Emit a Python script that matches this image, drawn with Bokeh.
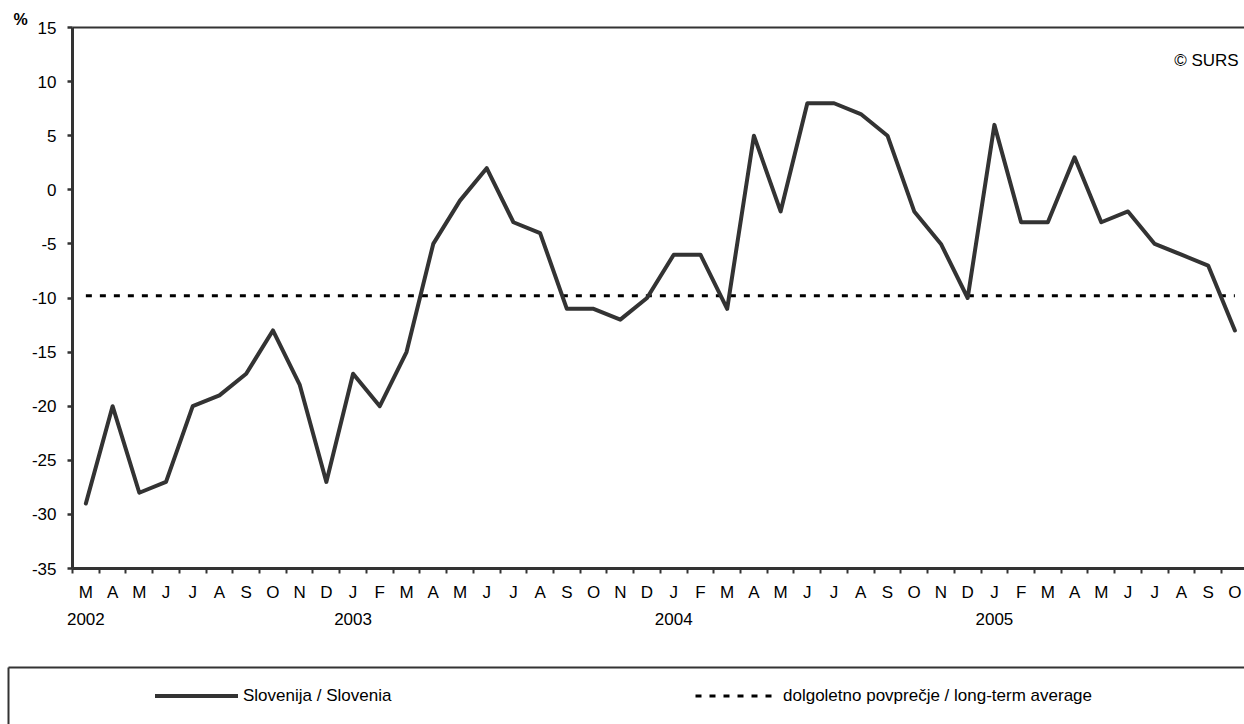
from bokeh.plotting import figure
from bokeh.layouts import column
from bokeh.models import (Range1d, FixedTicker, LinearAxis, Legend, LegendItem,
                          Label, ColumnDataSource, CustomJSTickFormatter, Title)
from bokeh.embed import file_html
from bokeh.resources import INLINE

# ---- data -------------------------------------------------------------
months = ["M", "A", "M", "J", "J", "A", "S", "O", "N", "D",
          "J", "F", "M", "A", "M", "J", "J", "A", "S", "O", "N", "D",
          "J", "F", "M", "A", "M", "J", "J", "A", "S", "O", "N", "D",
          "J", "F", "M", "A", "M", "J", "J", "A", "S", "O"]
years = ["2002", "2003", "2004", "2005"]
year_start_index = [0, 10, 22, 34]
slovenia = [-29, -20, -28, -27, -20, -19, -17, -13, -18, -27,
            -17, -20, -15, -5, -1, 2, -3, -4, -11, -11, -12, -10,
            -6, -6, -11, 5, -2, 8, 8, 7, 5, -2, -5, -10,
            6, -3, -3, 3, -3, -2, -5, -6, -7, -13]
long_term_average = -9.8
y_ticks = [-35, -30, -25, -20, -15, -10, -5, 0, 5, 10, 15]

series_name = "Slovenija / Slovenia"
average_name = "dolgoletno povprečje / long-term average"

FONT = "Liberation Sans"
DARK = "#333333"

x = [i + 0.5 for i in range(len(months))]
src = ColumnDataSource(dict(x=x, y=slovenia,
                            avg=[long_term_average for _ in months]))

SL_STYLE = dict(line_color=DARK, line_width=4, line_join="round", line_cap="round")
AVG_STYLE = dict(line_color="black", line_width=3, line_dash="6 8")


def line_only_axis(**kw):
    return LinearAxis(ticker=FixedTicker(ticks=[]), axis_line_width=2,
                      axis_line_color=DARK, major_tick_out=0, major_tick_in=0,
                      minor_tick_out=0, minor_tick_in=0,
                      major_label_text_font_size="0px", **kw)


# ---- main chart -------------------------------------------------------
p = figure(width=1244, height=664, output_backend="svg", toolbar_location=None,
           x_range=Range1d(0, 43.86), y_range=Range1d(-35, 15),
           min_border_left=72, min_border_right=0, min_border_top=27,
           min_border_bottom=96)
p.frame_align = False
p.outline_line_color = None
p.grid.visible = False

r_avg = p.line("x", "avg", source=src, **AVG_STYLE)
r_sl = p.line("x", "y", source=src, **SL_STYLE)

ya = p.yaxis[0]
ya.ticker = FixedTicker(ticks=y_ticks)
ya.formatter = CustomJSTickFormatter(code="return tick.toFixed(0)")
ya.axis_line_width = 3
ya.axis_line_color = DARK
ya.major_tick_out = 5
ya.major_tick_in = 0
ya.major_tick_line_width = 2.5
ya.major_tick_line_color = DARK
ya.minor_tick_out = 0
ya.minor_tick_in = 0
ya.major_label_standoff = 11
ya.major_label_text_font = FONT
ya.major_label_text_font_size = "17px"
ya.major_label_text_color = "black"

xa = p.xaxis[0]
xa.ticker = FixedTicker(ticks=x, minor_ticks=list(range(0, len(months) + 1)))
xa.formatter = CustomJSTickFormatter(args=dict(labels=months),
                                     code="return labels[Math.floor(tick)] || ''")
xa.axis_line_width = 3
xa.axis_line_color = DARK
xa.major_tick_out = 0
xa.major_tick_in = 0
xa.minor_tick_out = 5
xa.minor_tick_in = 0
xa.minor_tick_line_width = 2
xa.minor_tick_line_color = DARK
xa.major_label_standoff = 9
xa.major_label_text_font = FONT
xa.major_label_text_font_size = "17px"
xa.major_label_text_color = "black"

year_axis = LinearAxis(
    ticker=FixedTicker(ticks=[i + 0.5 for i in year_start_index]),
    formatter=CustomJSTickFormatter(
        args=dict(idx=year_start_index, labels=years),
        code="const k = idx.indexOf(Math.floor(tick)); return k >= 0 ? labels[k] : ''"),
    axis_line_color=None, major_tick_out=0, major_tick_in=0,
    minor_tick_out=0, minor_tick_in=0,
    major_label_standoff=8,
    major_label_text_font=FONT, major_label_text_font_size="17px",
    major_label_text_color="black")
p.add_layout(year_axis, "below")

p.add_layout(line_only_axis(), "above")

p.add_layout(Title(text="%", align="left", offset=-59, standoff=0,
                   text_font=FONT, text_font_size="16px",
                   text_font_style="bold", text_color="black"), "above")

p.add_layout(Label(x=43.64, y=11.95, text="© SURS", text_align="right",
                   text_baseline="middle", text_font=FONT,
                   text_font_size="17px", text_color="black"))

# ---- legend strip -----------------------------------------------------
lg = figure(width=1244, height=60, output_backend="svg", toolbar_location=None,
            x_range=Range1d(0, 1), y_range=Range1d(1000, 1001),
            x_axis_location=None, y_axis_location=None,
            min_border_left=8, min_border_right=0, min_border_top=3,
            min_border_bottom=0)
lg.frame_align = False
lg.outline_line_color = None
lg.grid.visible = False
lg.add_layout(line_only_axis(), "left")
lg.add_layout(line_only_axis(), "above")

# same series, outside this strip's view; they only carry the legend styles
k_sl = lg.line("x", "y", source=src, **SL_STYLE)
k_avg = lg.line("x", "avg", source=src, **AVG_STYLE)

legend = Legend(
    items=[LegendItem(label=series_name, renderers=[k_sl]),
           LegendItem(label=average_name, renderers=[k_avg])],
    orientation="horizontal", location=(147, 16),
    glyph_width=83, glyph_height=25, label_height=25, label_width=160,
    label_standoff=5, spacing=292, padding=0, margin=0,
    border_line_color=None, background_fill_alpha=0,
    label_text_font=FONT, label_text_font_size="17px",
    label_text_color="black")
lg.add_layout(legend)

open("out.html", "w").write(file_html(column(p, lg, spacing=0), INLINE))
